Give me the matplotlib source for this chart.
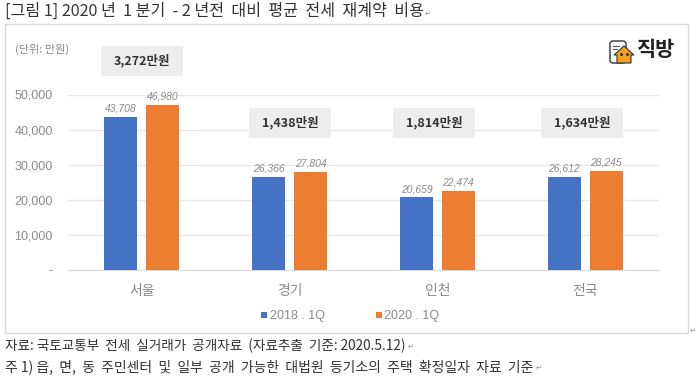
import numpy as np
import matplotlib
matplotlib.use('Agg')
import matplotlib.pyplot as plt
from matplotlib.patches import Rectangle, Polygon, FancyBboxPatch

plt.rcParams['font.family'] = ['Noto Sans CJK KR', 'DejaVu Sans']

regions = ['서울', '경기', '인천', '전국']
rent_2018 = [43708, 26366, 20659, 26612]
rent_2020 = [46980, 27804, 22474, 28245]
diff_labels = ['3,272만원', '1,438만원', '1,814만원', '1,634만원']
y_ticks = [0, 10000, 20000, 30000, 40000, 50000]
y_tick_labels = ['-', '10,000', '20,000', '30,000', '40,000', '50,000']
series_labels = ['2018 . 1Q', '2020 . 1Q']

W, H = 700, 384
BLUE = '#4472C4'
ORANGE = '#ED7D31'
GREY = '#8A8A8A'

fig = plt.figure(figsize=(W / 100, H / 100), dpi=100, facecolor='white')

# 픽셀 좌표용 배경 축
bg = fig.add_axes([0, 0, 1, 1])
bg.set_xlim(0, W)
bg.set_ylim(H, 0)
bg.axis('off')
bg.set_zorder(0)
bg.add_patch(Rectangle((5, 24), 683, 309, fc='white', ec='#D9D9D9', lw=1))

# 차트
ax = fig.add_axes([68 / W, 1 - 270 / H, 591 / W, 175.5 / H])
ax.patch.set_alpha(0)
ax.set_zorder(1)
x = np.arange(len(regions))
width = 0.223
offset = 0.142
bars1 = ax.bar(x - offset, rent_2018, width, color=BLUE, zorder=3)
bars2 = ax.bar(x + offset, rent_2020, width, color=ORANGE, zorder=3)

for bars, values in [(bars1, rent_2018), (bars2, rent_2020)]:
    for b, v in zip(bars, values):
        ax.annotate(f'{v:,}', (b.get_x() + b.get_width() / 2, v), xytext=(0, 2.5),
                    textcoords='offset points', ha='center', va='bottom',
                    fontsize=7.5, style='italic', color='#8C8C8C', family='Liberation Sans', zorder=5)

ax.set_xlim(-0.5, 3.5)
ax.set_ylim(0, 50000)
ax.set_yticks(y_ticks)
ax.set_yticklabels(y_tick_labels, fontsize=9, color=GREY, family='Liberation Sans')
ax.set_xticks(x)
ax.set_xticklabels(regions, fontsize=10, color=GREY)
ax.tick_params(axis='both', length=0)
ax.tick_params(axis='y', pad=11)
ax.tick_params(axis='x', pad=10)
ax.grid(axis='y', color='#E8E8E8', lw=1, zorder=0)
for s in ['top', 'left', 'right']:
    ax.spines[s].set_visible(False)
ax.spines['bottom'].set_color('#D9D9D9')

# 증가액 박스
box_left = [101, 249, 393, 541]
box_top = [46, 108, 108, 108]

top = fig.add_axes([0, 0, 1, 1])
top.set_xlim(0, W)
top.set_ylim(H, 0)
top.axis('off')
top.set_zorder(2)
for left, t, label in zip(box_left, box_top, diff_labels):
    top.add_patch(Rectangle((left, t), 82, 30, fc='#EDEDED', ec='none'))
    top.text(left + 41, t + 15, label, ha='center', va='center', fontsize=9,
             fontweight='bold', color='#333333')

# 범례
top.add_patch(Rectangle((261, 312), 6, 6, fc=BLUE, ec='none'))
top.text(270, 316, series_labels[0], ha='left', va='center', fontsize=9, color=GREY,
         family='Liberation Sans')
top.add_patch(Rectangle((376, 312), 6, 6, fc=ORANGE, ec='none'))
top.text(384, 316, series_labels[1], ha='left', va='center', fontsize=9, color=GREY,
         family='Liberation Sans')

top.text(15, 49, '(단위: 만원)', ha='left', va='center', fontsize=8, color=GREY)

# 로고
top.add_patch(FancyBboxPatch((610, 41), 16, 22, boxstyle='round,pad=0,rounding_size=3',
                             fc='white', ec='#333333', lw=1))
top.plot([613, 619], [46, 46], color='#555555', lw=0.8)
top.plot([613, 617], [49, 49], color='#555555', lw=0.8)
top.add_patch(Polygon([(614, 55), (624, 46), (634, 55), (631, 55), (631, 63), (617, 63), (617, 55)],
                      closed=True, fc='#F5A01E', ec='#333333', lw=0.8))
top.plot([621, 627], [54, 54], ls='none', marker='o', ms=1.2, color='#333333')
top.text(636.5, 50, '직방', ha='left', va='center', fontsize=15, fontweight='bold', color='#222222')

# 본문 글
top.text(5, 11.5, '[그림 1] 2020 년  1 분기  - 2 년전  대비  평균  전세  재계약  비용', ha='left', va='center',
         fontsize=11.6, color='#333333')
top.text(425, 13.5, '↵', ha='left', va='center', fontsize=5, color='#888888')
top.text(5, 346, '자료: 국토교통부  전세  실거래가  공개자료  (자료추출  기준: 2020.5.12)', ha='left', va='center',
         fontsize=9.8, color='#333333')
top.text(408, 347, '↵', ha='left', va='center', fontsize=5, color='#888888')
top.text(5, 367, '주 1) 읍,  면,  동  주민센터  및  일부  공개  가능한  대법원  등기소의  주택  확정일자  자료  기준', ha='left',
         va='center', fontsize=10, color='#333333')
top.text(536, 368, '↵', ha='left', va='center', fontsize=5, color='#888888')
top.text(690, 331, '↵', ha='left', va='center', fontsize=5, color='#888888')

fig.savefig('out.png', dpi=100)
